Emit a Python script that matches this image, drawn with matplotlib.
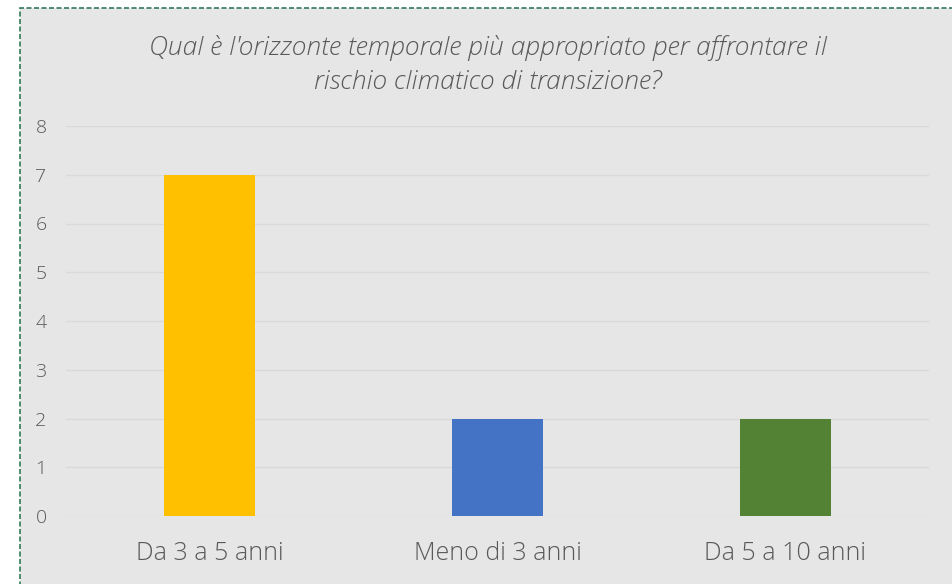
import matplotlib.pyplot as plt
from matplotlib.patches import Rectangle

# dati del grafico
categorie = ['Da 3 a 5 anni', 'Meno di 3 anni', 'Da 5 a 10 anni']
valori = [7, 2, 2]
colori = ['#FFC000', '#4472C4', '#548235']
titolo = "Qual è l'orizzonte temporale più appropriato per affrontare il\nrischio climatico di transizione?"

plt.rcParams['font.family'] = ['Open Sans', 'DejaVu Sans']

fig = plt.figure(figsize=(9.52, 5.84), dpi=100)
fig.patch.set_facecolor('white')

# sfondo grigio con bordo tratteggiato verde
W, H = 952, 584
bordo = Rectangle((20 / W, -0.05), 1.0, 1 - 8 / H + 0.05, transform=fig.transFigure,
                  facecolor='#e6e6e6', edgecolor='#2f7a57', linewidth=1.2,
                  linestyle=(0, (3, 1.5)), zorder=-10)
fig.patches.append(bordo)

ax = fig.add_axes([66 / W, 1 - 516 / H, (929 - 66) / W, (516 - 126) / H])
ax.set_facecolor('none')

x = range(len(categorie))
ax.bar(x, valori, width=0.316, color=colori, zorder=3)

ax.set_xlim(-0.5, 2.5)
ax.set_ylim(0, 8)
ax.set_yticks(range(0, 9))
ax.set_xticks(list(x))
ax.set_xticklabels(categorie, fontsize=18, color='#595959', fontweight='light')
ax.tick_params(axis='y', labelsize=14, colors='#595959', length=0, pad=14)
ax.tick_params(axis='x', length=0, pad=18)
for lab in ax.get_yticklabels():
    lab.set_fontweight('light')

ax.grid(axis='y', color='#d9d9d9', linewidth=1.0, zorder=0)
for s in ax.spines.values():
    s.set_visible(False)

fig.text(488 / W, 1 - 65 / H, titolo, ha='center', va='center', fontsize=19,
         style='italic', color='#595959', fontweight='light', linespacing=1.5)

fig.savefig('out.png', dpi=100)
